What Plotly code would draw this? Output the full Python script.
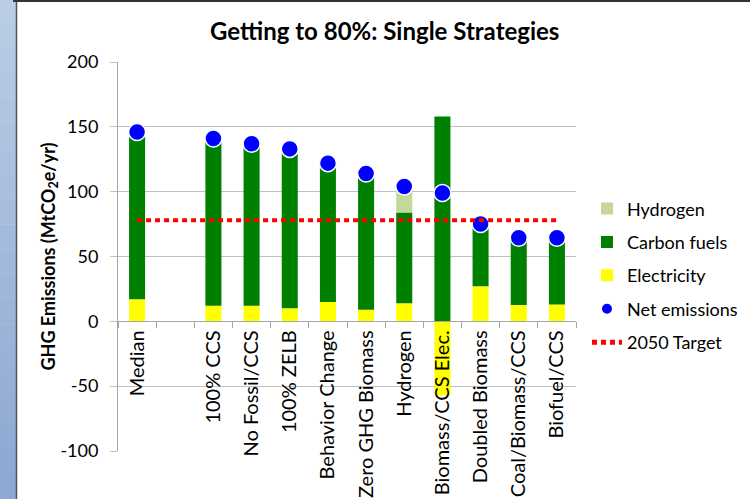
import plotly.graph_objects as go

categories = ["Median", " ", "100% CCS", "No Fossil/CCS", "100% ZELB", "Behavior Change",
              "Zero GHG Biomass", "Hydrogen", "Biomass/CCS Elec.", "Doubled Biomass",
              "Coal/Biomass/CCS", "Biofuel/CCS"]
electricity = [17, None, 12, 12, 10, 15, 9, 14, -57, 27, 12.5, 13]
carbon_fuels = [128, None, 128, 124, 122, 106, 104, 70, 158, 46, 50, 50]
hydrogen = [0, None, 0, 0, 0, 0, 0, 16, 0, 0, 0, 0]
net_emissions = [146, None, 141, 137, 133, 122, 114, 104, 99, 75, 64.5, 64.5]
target_2050 = [78] * len(categories)
y_tick_values = [-100, -50, 0, 50, 100, 150, 200]
y_tick_labels = ["-100", "-50", "0", "50", "100", "150", "200"]

FONT = "Lato"

fig = go.Figure()
fig.add_trace(go.Bar(x=categories, y=electricity, name="Electricity",
                     marker=dict(color="#ffff00", line=dict(width=0)),
                     legendgroup="e", legendrank=3))
fig.add_trace(go.Bar(x=categories, y=carbon_fuels, name="Carbon fuels",
                     marker=dict(color="#008000", line=dict(width=0)),
                     legendgroup="c", legendrank=2))
fig.add_trace(go.Bar(x=categories, y=hydrogen, name="Hydrogen",
                     marker=dict(color="#c4d89c", line=dict(width=0)),
                     legendgroup="h", legendrank=1))
fig.add_trace(go.Scatter(x=categories, y=net_emissions, name="Net emissions", mode="markers",
                         marker=dict(color="#0000ff", size=17, line=dict(color="white", width=1.5)),
                         legendgroup="n", legendrank=4))
fig.add_trace(go.Scatter(x=categories, y=target_2050, name="2050 Target", mode="lines",
                         line=dict(color="#ff0000", width=4, dash="5px,4px"),
                         legendgroup="t", legendrank=5))

# slide decoration: left blue gradient strip and top border
n_bands = 20
top_c = (0xb9, 0xcd, 0xe5)
bot_c = (0x8c, 0xa8, 0xd3)
shapes = []
for i in range(n_bands):
    t = i / (n_bands - 1)
    c = tuple(int(top_c[k] + (bot_c[k] - top_c[k]) * t) for k in range(3))
    shapes.append(dict(type="rect", xref="paper", yref="paper", layer="below",
                       x0=-118 / 458, x1=-101 / 458,
                       y0=1 + 62 / 389 - (i + 1) * (499 / 389) / n_bands - 0.0005,
                       y1=1 + 62 / 389 - i * (499 / 389) / n_bands + 0.0005,
                       fillcolor="rgb(%d,%d,%d)" % c, line=dict(width=0)))
shapes.append(dict(type="line", xref="paper", yref="paper", x0=-101.5 / 458, x1=-101.5 / 458,
                   y0=-48 / 389, y1=1 + 62 / 389, line=dict(color="#555555", width=1.5)))
shapes.append(dict(type="line", xref="paper", yref="paper", x0=-105 / 458, x1=1 + 174 / 458,
                   y0=1 + 61 / 389, y1=1 + 61 / 389, line=dict(color="#333333", width=2)))

fig.update_layout(
    width=750, height=499,
    margin=dict(l=118, r=174, t=62, b=48, autoexpand=False),
    paper_bgcolor="white", plot_bgcolor="white",
    barmode="relative", bargap=0.58,
    font=dict(family=FONT, color="#000000", size=16),
    title=dict(text="<b>Getting to 80%: Single Strategies</b>", x=0.513, xanchor="center",
               y=1 - 32 / 499, yanchor="middle", font=dict(size=24, family=FONT)),
    shapes=shapes,
    legend=dict(x=1.024, y=0.67, xanchor="left", yanchor="top", traceorder="grouped",
                tracegroupgap=7, font=dict(size=18, family=FONT), bgcolor="rgba(0,0,0,0)",
                itemwidth=30, itemsizing="constant"),
    showlegend=True,
)
fig.update_xaxes(
    type="category", categoryorder="array", categoryarray=categories,
    anchor="free", position=1 / 3, showline=True, linecolor="#a6a6a6", linewidth=1,
    ticks="outside", ticklen=6, tickcolor="#a6a6a6", tickson="boundaries",
    tickangle=-90, tickfont=dict(size=20, family=FONT), showgrid=False, automargin=False,
    range=[-0.5, 11.5],
)
fig.update_yaxes(
    range=[-100, 200], tickvals=y_tick_values, ticktext=y_tick_labels,
    showgrid=True, gridcolor="#c0c0c0", gridwidth=1, zeroline=False,
    showline=True, linecolor="#a6a6a6", ticks="outside", ticklen=7, tickcolor="#c0c0c0",
    tickfont=dict(size=18, family=FONT), ticklabelstandoff=8, automargin=False,
    title=dict(text="<b>GHG Emissions (MtCO<sub>2</sub>e/yr)</b>", font=dict(size=18, family=FONT),
               standoff=0),
)
fig.write_html("out.html")
